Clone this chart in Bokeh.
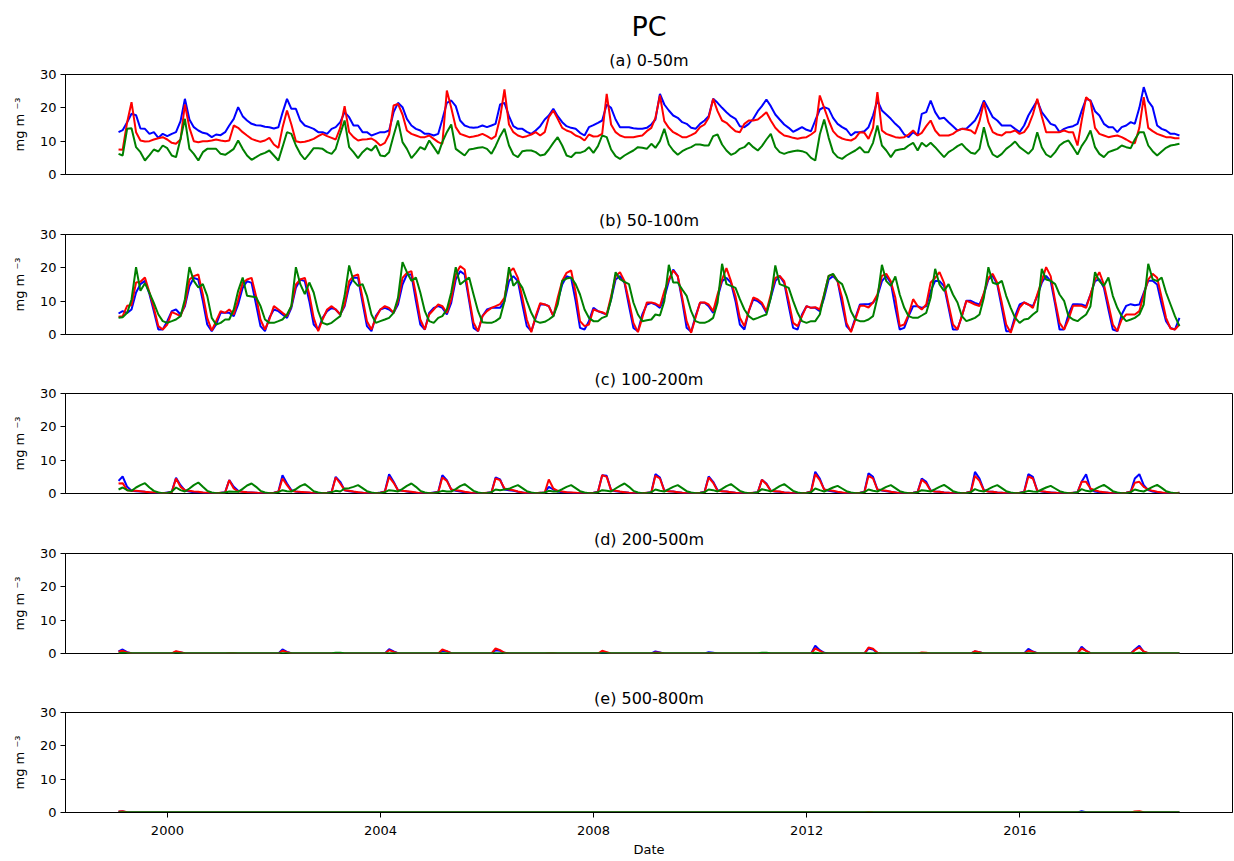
import pandas as pd
from bokeh.plotting import figure
from bokeh.layouts import column
from bokeh.models import Range1d, FixedTicker, DatetimeTickFormatter, Title, ColumnDataSource
from bokeh.embed import file_html
from bokeh.resources import INLINE

FONT = "DejaVu Sans"
YEARS = list(range(1999, 2019))
TICK_YEARS = [2000, 2004, 2008, 2012, 2016]
Y_TICKS = [0, 10, 20, 30]
SUPTITLE = "PC"
PANEL_TITLES = ["(a) 0-50m", "(b) 50-100m", "(c) 100-200m", "(d) 200-500m", "(e) 500-800m"]
Y_LABEL = "mg m \u207b\u00b3"
X_LABEL = "Date"
COLORS = ["blue", "red", "green"]

# ---------------- panel (a) 0-50m, one row per year (Jan..Dec) ----------------
A_BLUE = [
    [12.7, 13.3, 15.7, 18.2, 17.8, 13.8, 13.7, 12.2, 12.7, 11.0, 12.2, 11.5],
    [12.2, 12.7, 16.0, 22.7, 16.5, 14.2, 13.2, 12.5, 12.2, 11.2, 12.0, 11.8],
    [12.7, 14.7, 16.7, 20.2, 17.5, 16.2, 15.2, 14.8, 14.7, 14.3, 14.2, 13.8],
    [14.2, 18.5, 22.7, 19.7, 19.7, 16.2, 14.7, 14.2, 13.7, 12.7, 12.7, 12.2],
    [13.7, 14.2, 15.7, 18.7, 17.2, 14.7, 14.7, 12.7, 12.7, 11.7, 12.2, 12.7],
    [12.7, 13.2, 18.7, 21.5, 20.2, 16.7, 14.7, 13.7, 13.2, 12.2, 12.2, 11.7],
    [12.2, 16.5, 21.5, 22.2, 20.5, 16.2, 14.7, 14.2, 14.0, 14.2, 14.7, 14.2],
    [14.7, 15.2, 21.0, 21.5, 17.5, 14.5, 13.7, 13.7, 12.8, 12.2, 13.2, 14.5],
    [16.5, 17.7, 19.7, 17.5, 15.7, 14.5, 14.0, 13.7, 12.5, 11.7, 14.2, 14.8],
    [15.5, 16.2, 21.0, 20.0, 16.5, 14.2, 14.2, 14.2, 13.9, 13.7, 13.7, 14.0],
    [15.0, 16.5, 24.2, 21.0, 19.2, 17.7, 17.0, 15.7, 15.2, 14.0, 13.7, 15.2],
    [16.2, 17.5, 22.7, 21.5, 20.0, 18.7, 17.5, 16.7, 14.5, 14.2, 15.2, 16.7],
    [19.0, 20.5, 22.5, 20.5, 18.0, 16.5, 15.0, 14.0, 12.8, 13.5, 14.2, 13.4],
    [13.0, 16.2, 19.5, 20.2, 19.7, 17.0, 15.2, 14.2, 13.5, 11.7, 12.7, 12.7],
    [13.0, 14.2, 17.7, 22.2, 19.2, 18.0, 16.7, 15.2, 14.0, 12.0, 11.2, 12.7],
    [11.7, 18.2, 18.7, 22.2, 18.7, 16.7, 17.0, 15.7, 14.5, 13.2, 13.7, 13.7],
    [15.0, 16.2, 18.7, 22.2, 19.7, 17.2, 16.2, 14.7, 14.7, 14.7, 13.7, 12.7],
    [14.7, 17.7, 20.0, 22.2, 18.7, 17.0, 15.2, 14.7, 12.7, 13.7, 14.2, 14.5],
    [15.2, 19.0, 22.7, 22.2, 19.0, 17.7, 15.2, 14.2, 14.2, 12.7, 14.2, 14.7],
    [15.7, 15.2, 20.0, 26.2, 22.0, 20.2, 14.7, 13.7, 13.2, 12.2, 12.2, 11.7],
]
A_RED = [
    [7.5, 7.4, 15.7, 21.7, 12.7, 10.2, 9.9, 10.0, 10.5, 10.9, 11.2, 10.5],
    [9.5, 9.2, 10.5, 21.0, 14.0, 10.0, 9.7, 10.0, 10.0, 10.2, 10.5, 10.2],
    [10.0, 10.2, 14.7, 14.0, 12.7, 11.7, 10.7, 10.2, 9.8, 10.2, 11.0, 9.0],
    [8.0, 14.0, 19.2, 15.0, 10.0, 9.7, 9.8, 10.2, 10.7, 11.5, 12.2, 11.5],
    [11.0, 10.5, 14.0, 20.5, 12.7, 11.2, 10.2, 10.5, 10.6, 10.8, 10.0, 8.7],
    [9.5, 12.0, 20.7, 21.2, 18.0, 13.2, 12.2, 11.7, 11.2, 11.2, 11.7, 10.7],
    [9.7, 9.2, 25.2, 20.0, 14.2, 12.2, 11.7, 11.2, 11.4, 11.7, 12.2, 11.5],
    [10.7, 11.5, 17.0, 25.5, 15.0, 12.7, 11.7, 11.2, 11.5, 12.0, 12.7, 11.7],
    [12.7, 17.2, 19.2, 16.7, 14.0, 13.2, 12.7, 11.7, 11.2, 10.2, 12.0, 11.4],
    [11.5, 12.2, 24.2, 15.0, 12.7, 11.7, 11.2, 11.2, 11.2, 11.5, 11.7, 13.0],
    [14.0, 17.0, 23.7, 16.0, 14.0, 12.7, 12.0, 11.2, 11.2, 11.8, 12.5, 14.2],
    [15.0, 17.0, 22.7, 19.0, 16.2, 15.5, 14.2, 13.0, 12.7, 15.2, 16.2, 16.2],
    [16.5, 17.5, 18.7, 16.2, 14.0, 12.7, 11.7, 11.4, 11.0, 10.7, 11.0, 11.2],
    [12.0, 13.0, 23.7, 20.0, 16.2, 13.0, 11.5, 10.8, 10.4, 10.2, 10.9, 12.7],
    [12.5, 10.7, 14.0, 24.7, 13.2, 12.2, 11.7, 11.2, 11.0, 11.2, 12.0, 13.2],
    [11.7, 12.5, 14.5, 16.2, 13.2, 11.7, 11.7, 11.7, 12.2, 13.2, 13.7, 13.5],
    [13.2, 12.2, 16.0, 21.7, 15.7, 12.7, 12.0, 11.7, 12.7, 12.7, 13.2, 12.2],
    [12.7, 14.5, 18.0, 22.7, 17.5, 12.7, 12.7, 12.7, 12.7, 13.2, 12.7, 12.7],
    [8.7, 16.0, 23.2, 22.0, 14.0, 12.2, 11.7, 11.2, 11.5, 11.7, 11.2, 10.5],
    [9.7, 9.4, 14.0, 23.2, 14.0, 13.0, 12.2, 11.7, 11.2, 11.2, 10.9, 10.9],
]
A_GREEN = [
    [6.2, 5.7, 13.7, 13.9, 8.2, 6.7, 4.2, 5.8, 7.5, 6.9, 8.7, 7.9],
    [5.7, 5.2, 10.7, 16.7, 7.7, 6.2, 4.2, 6.7, 7.7, 7.7, 7.7, 6.2],
    [5.9, 6.7, 7.7, 10.2, 7.7, 5.7, 4.4, 5.2, 6.0, 6.5, 7.2, 5.7],
    [4.2, 8.2, 12.7, 12.2, 8.7, 6.2, 4.5, 6.2, 7.9, 7.9, 7.7, 6.7],
    [6.2, 7.7, 12.2, 16.2, 8.2, 6.7, 4.9, 6.7, 7.9, 7.2, 8.7, 5.7],
    [5.5, 6.7, 11.7, 16.2, 9.7, 7.7, 4.9, 6.5, 8.2, 7.5, 10.2, 8.2],
    [6.2, 9.7, 12.7, 15.0, 7.7, 6.7, 5.7, 7.5, 7.7, 8.0, 8.2, 7.7],
    [6.2, 8.5, 11.5, 13.7, 8.7, 6.0, 5.2, 7.0, 7.2, 7.2, 6.7, 5.7],
    [6.0, 7.5, 9.5, 11.2, 8.7, 5.7, 5.2, 6.5, 6.5, 7.0, 8.2, 6.5],
    [8.5, 11.7, 11.2, 7.5, 5.5, 4.7, 5.7, 6.5, 7.2, 8.2, 8.0, 7.7],
    [9.2, 8.0, 10.0, 13.7, 9.0, 7.2, 5.9, 7.0, 7.7, 8.2, 9.0, 9.0],
    [8.7, 8.7, 11.5, 12.0, 9.0, 7.2, 5.9, 6.5, 7.7, 8.2, 9.5, 8.2],
    [7.2, 8.5, 10.5, 12.2, 8.2, 6.7, 6.2, 6.7, 7.0, 7.2, 7.0, 6.5],
    [5.0, 4.2, 12.0, 16.5, 11.0, 6.7, 5.2, 4.7, 5.7, 6.5, 7.2, 8.2],
    [6.7, 6.7, 9.5, 14.7, 8.7, 7.2, 5.2, 7.2, 7.5, 7.7, 8.7, 9.5],
    [7.2, 9.5, 8.4, 9.5, 8.2, 6.7, 5.2, 6.7, 7.5, 8.5, 9.2, 7.7],
    [6.5, 6.2, 7.7, 14.2, 8.7, 6.0, 5.2, 6.2, 7.7, 8.7, 9.9, 8.2],
    [7.2, 6.2, 7.7, 12.7, 8.2, 6.0, 5.2, 6.7, 8.7, 9.7, 10.2, 8.2],
    [6.0, 8.5, 10.5, 13.2, 8.2, 6.2, 5.2, 6.7, 7.2, 7.7, 8.7, 8.2],
    [7.9, 10.5, 12.7, 12.7, 8.7, 7.0, 5.7, 6.9, 8.0, 8.7, 8.9, 9.2],
]

# ---------------- panel (b) 50-100m ----------------
B_BLUE = [
    [6.3, 7.0, 6.5, 7.5, 12.6, 15.1, 16.1, 12.1, 7.0, 1.5, 1.5, 4.0],
    [7.0, 7.5, 6.0, 8.5, 14.5, 17.0, 16.5, 10.0, 3.0, 1.0, 3.0, 6.5],
    [6.5, 6.5, 5.5, 9.0, 14.0, 16.0, 15.5, 9.0, 2.5, 1.0, 5.0, 7.5],
    [7.0, 6.0, 5.0, 8.0, 14.0, 16.5, 16.0, 10.0, 3.0, 1.5, 5.0, 7.0],
    [8.0, 7.5, 6.0, 8.5, 14.5, 17.0, 17.0, 9.5, 2.5, 1.0, 5.5, 7.5],
    [8.0, 7.5, 6.5, 9.0, 15.0, 18.0, 18.0, 10.0, 3.0, 1.5, 6.5, 8.0],
    [8.5, 8.0, 6.0, 9.5, 16.5, 19.0, 18.0, 10.0, 2.0, 1.0, 5.5, 7.5],
    [8.0, 8.0, 8.0, 10.0, 16.0, 17.5, 16.0, 9.0, 2.5, 1.0, 5.0, 9.0],
    [9.0, 8.5, 5.5, 10.0, 15.0, 17.5, 17.0, 10.0, 2.0, 1.5, 4.0, 8.0],
    [7.0, 6.5, 6.0, 10.5, 16.5, 17.5, 15.5, 8.5, 2.0, 1.0, 6.0, 9.0],
    [9.5, 9.0, 8.0, 11.0, 16.0, 19.5, 17.5, 10.0, 2.0, 0.8, 5.5, 9.5],
    [9.5, 8.5, 6.5, 11.0, 16.0, 17.0, 15.5, 10.0, 3.0, 1.5, 7.0, 10.5],
    [10.0, 9.0, 6.5, 11.0, 16.0, 17.5, 15.5, 8.5, 2.0, 1.5, 6.0, 8.5],
    [8.0, 8.0, 7.0, 11.0, 16.5, 17.5, 16.0, 9.0, 2.5, 1.0, 5.0, 9.0],
    [9.1, 9.1, 9.5, 11.5, 16.0, 17.6, 15.5, 8.0, 1.5, 2.0, 5.5, 8.5],
    [8.5, 8.0, 8.5, 13.0, 16.1, 16.0, 14.5, 8.0, 1.5, 1.5, 5.5, 10.1],
    [10.1, 9.5, 9.0, 12.0, 16.5, 17.6, 15.0, 8.0, 1.0, 1.0, 5.5, 9.0],
    [9.6, 9.0, 8.5, 11.5, 15.5, 17.6, 16.0, 9.0, 1.5, 1.5, 6.0, 9.1],
    [9.1, 9.0, 8.5, 12.0, 16.0, 16.6, 14.0, 7.5, 1.5, 1.0, 6.0, 8.6],
    [9.1, 8.8, 9.0, 12.5, 16.1, 16.1, 15.0, 9.0, 4.0, 2.0, 1.5, 5.0],
]
B_RED = [
    [5.3, 5.5, 8.6, 8.8, 15.6, 15.8, 17.1, 12.6, 8.0, 2.5, 1.5, 3.0],
    [6.7, 6.2, 5.5, 9.0, 16.5, 17.5, 18.0, 12.0, 5.0, 1.2, 4.0, 7.0],
    [6.5, 7.5, 6.0, 10.5, 15.5, 16.5, 17.0, 11.5, 4.5, 1.5, 4.5, 8.5],
    [7.5, 6.5, 5.5, 8.5, 15.0, 16.5, 17.0, 12.0, 5.0, 1.0, 4.5, 7.5],
    [8.5, 7.5, 6.0, 9.0, 16.0, 17.5, 18.0, 11.0, 4.0, 1.5, 5.0, 7.5],
    [8.5, 8.0, 6.5, 10.0, 17.0, 18.5, 19.0, 12.0, 4.5, 1.5, 6.0, 7.5],
    [9.0, 8.5, 6.5, 10.5, 18.0, 20.5, 19.5, 11.0, 3.5, 1.0, 5.5, 7.0],
    [8.0, 8.5, 9.1, 11.0, 18.7, 19.9, 17.0, 11.0, 4.5, 0.7, 5.5, 9.4],
    [9.0, 8.5, 5.5, 11.0, 16.1, 18.5, 19.2, 12.6, 4.0, 2.5, 3.0, 7.5],
    [7.0, 6.7, 6.0, 11.5, 17.5, 18.7, 16.0, 10.0, 3.5, 0.7, 5.0, 9.6],
    [9.6, 9.3, 8.5, 13.0, 16.5, 19.2, 17.5, 11.0, 4.0, 0.5, 5.0, 9.6],
    [9.6, 9.0, 7.0, 12.0, 16.5, 19.9, 16.0, 11.5, 5.0, 2.5, 7.0, 11.1],
    [10.5, 9.5, 7.0, 12.0, 17.0, 17.6, 16.0, 10.0, 3.5, 2.5, 5.5, 8.5],
    [8.0, 8.2, 7.5, 12.0, 17.6, 18.0, 16.0, 11.0, 3.5, 0.7, 4.5, 8.6],
    [8.6, 8.1, 9.6, 12.0, 17.6, 18.2, 16.0, 11.0, 2.5, 3.0, 6.0, 10.6],
    [8.5, 7.5, 9.0, 15.6, 17.0, 18.7, 15.5, 9.0, 3.0, 1.5, 5.5, 10.1],
    [9.6, 9.0, 8.5, 12.5, 17.0, 18.2, 15.5, 9.5, 3.0, 0.5, 4.5, 8.1],
    [9.6, 9.0, 8.0, 12.0, 16.1, 20.2, 17.5, 10.0, 3.5, 1.5, 4.5, 8.6],
    [8.6, 8.6, 8.0, 12.0, 16.5, 18.7, 15.0, 9.0, 3.0, 1.0, 4.5, 6.0],
    [6.0, 6.0, 7.0, 12.0, 16.5, 18.2, 17.0, 11.0, 5.0, 1.8, 1.5, 3.0],
]
B_GREEN = [
    [5.0, 5.2, 6.5, 10.5, 20.2, 13.1, 15.4, 12.5, 9.5, 6.0, 4.0, 3.5],
    [4.0, 4.5, 5.5, 10.6, 20.2, 16.1, 14.1, 15.1, 11.6, 5.0, 3.0, 3.5],
    [4.5, 4.5, 7.5, 13.1, 17.1, 11.6, 11.4, 11.2, 8.6, 4.5, 3.5, 3.5],
    [4.0, 4.5, 6.0, 8.6, 20.2, 15.1, 12.1, 15.6, 12.6, 7.0, 3.5, 3.0],
    [3.5, 4.5, 5.5, 11.6, 20.7, 16.1, 14.6, 15.1, 11.6, 6.0, 3.5, 4.0],
    [4.5, 5.0, 6.5, 11.0, 21.7, 18.7, 16.1, 17.1, 12.6, 7.0, 4.0, 3.5],
    [5.0, 5.5, 7.5, 12.6, 20.2, 15.0, 16.1, 17.1, 12.0, 7.0, 3.7, 3.5],
    [3.5, 4.0, 5.0, 10.0, 20.2, 14.6, 16.1, 14.0, 10.1, 6.5, 4.0, 3.5],
    [3.8, 4.5, 5.5, 9.0, 16.1, 16.8, 17.1, 15.1, 12.0, 7.5, 5.0, 4.0],
    [4.0, 5.0, 5.5, 10.5, 18.7, 16.6, 15.8, 15.1, 9.6, 6.0, 4.0, 4.3],
    [4.5, 6.0, 5.7, 10.0, 20.9, 15.6, 15.6, 13.5, 11.6, 7.0, 4.0, 3.5],
    [3.5, 4.0, 5.0, 9.5, 21.2, 15.1, 14.6, 14.0, 10.6, 7.5, 5.5, 4.5],
    [5.0, 5.5, 6.0, 11.0, 20.7, 15.1, 14.6, 14.0, 10.1, 6.5, 4.0, 3.5],
    [4.0, 4.0, 6.0, 12.0, 17.6, 18.2, 16.1, 15.1, 11.6, 7.0, 4.5, 4.0],
    [4.0, 4.5, 5.5, 11.0, 20.9, 16.0, 14.6, 17.4, 12.0, 8.0, 5.5, 5.0],
    [5.0, 5.7, 6.5, 11.0, 19.7, 15.0, 13.1, 15.1, 12.0, 9.6, 5.5, 4.0],
    [4.5, 5.0, 6.0, 11.0, 20.2, 15.5, 15.1, 16.1, 11.6, 8.0, 5.0, 3.5],
    [4.5, 4.7, 6.0, 7.0, 19.7, 16.5, 16.1, 15.1, 12.0, 10.1, 5.5, 4.5],
    [4.0, 5.0, 6.0, 8.5, 18.7, 16.0, 14.6, 17.1, 11.6, 8.0, 5.5, 4.0],
    [4.5, 5.0, 6.0, 9.0, 21.2, 16.6, 16.0, 17.1, 12.6, 9.0, 5.5, 2.5],
]

# ---------------- panel (c) 100-200m ----------------
C_BLUE = [
    [3.8, 5.1, 2.0, 0.8, 0.7, 0.6, 0.5, 0.3, 0.2, 0.1, 0.1, 0.3],
    [0.5, 4.7, 2.5, 0.9, 0.6, 0.4, 0.3, 0.2, 0.1, 0.1, 0.1, 0.2],
    [0.4, 4.0, 2.0, 0.8, 0.5, 0.4, 0.3, 0.2, 0.1, 0.1, 0.1, 0.2],
    [0.6, 5.5, 3.0, 1.0, 0.6, 0.4, 0.3, 0.2, 0.1, 0.1, 0.1, 0.2],
    [0.5, 5.0, 3.5, 1.0, 0.7, 0.5, 0.3, 0.2, 0.1, 0.1, 0.1, 0.3],
    [0.6, 5.8, 3.5, 1.0, 0.8, 0.6, 0.4, 0.2, 0.1, 0.1, 0.1, 0.3],
    [0.5, 5.5, 4.0, 1.2, 0.8, 0.6, 0.4, 0.2, 0.1, 0.1, 0.1, 0.2],
    [0.4, 4.8, 4.2, 1.2, 1.0, 0.8, 0.5, 0.3, 0.1, 0.1, 0.1, 0.2],
    [0.3, 2.0, 1.2, 0.6, 0.4, 0.3, 0.2, 0.1, 0.1, 0.1, 0.1, 0.2],
    [0.5, 5.5, 5.3, 1.0, 0.7, 0.5, 0.4, 0.2, 0.1, 0.1, 0.1, 0.2],
    [0.4, 5.8, 4.8, 0.9, 0.7, 0.6, 0.4, 0.2, 0.1, 0.1, 0.1, 0.2],
    [0.5, 5.1, 3.5, 1.0, 0.7, 0.6, 0.4, 0.2, 0.1, 0.1, 0.1, 0.2],
    [0.4, 4.1, 3.0, 0.8, 0.6, 0.5, 0.3, 0.2, 0.1, 0.1, 0.1, 0.2],
    [0.6, 6.5, 4.5, 1.2, 0.8, 0.6, 0.4, 0.2, 0.1, 0.1, 0.1, 0.2],
    [0.5, 6.1, 5.0, 1.2, 0.9, 0.7, 0.5, 0.3, 0.1, 0.1, 0.1, 0.2],
    [0.5, 4.5, 3.5, 0.9, 0.6, 0.5, 0.3, 0.2, 0.1, 0.1, 0.1, 0.2],
    [0.6, 6.5, 4.5, 1.0, 0.6, 0.5, 0.3, 0.2, 0.1, 0.1, 0.1, 0.2],
    [0.5, 5.8, 5.0, 0.8, 0.6, 0.4, 0.3, 0.2, 0.1, 0.1, 0.1, 0.2],
    [0.4, 3.5, 5.8, 1.2, 0.6, 0.4, 0.3, 0.2, 0.1, 0.1, 0.1, 0.2],
    [0.6, 4.5, 5.8, 2.5, 1.0, 0.6, 0.4, 0.2, 0.1, 0.1, 0.1, 0.2],
]
C_RED = [
    [3.0, 3.1, 1.0, 0.8, 0.8, 0.7, 0.5, 0.4, 0.3, 0.2, 0.1, 0.2],
    [0.4, 4.5, 2.0, 1.0, 0.8, 0.6, 0.5, 0.3, 0.2, 0.1, 0.1, 0.2],
    [0.3, 4.0, 1.5, 0.6, 0.5, 0.4, 0.3, 0.2, 0.1, 0.1, 0.1, 0.2],
    [0.5, 4.5, 2.5, 0.8, 0.6, 0.5, 0.4, 0.3, 0.1, 0.1, 0.1, 0.2],
    [0.4, 4.8, 3.0, 1.0, 0.8, 0.6, 0.4, 0.2, 0.1, 0.1, 0.1, 0.2],
    [0.5, 5.0, 3.2, 1.0, 0.8, 0.7, 0.5, 0.3, 0.1, 0.1, 0.1, 0.2],
    [0.4, 4.8, 3.8, 1.2, 1.0, 0.8, 0.5, 0.3, 0.1, 0.1, 0.1, 0.2],
    [0.3, 4.5, 4.0, 1.5, 1.2, 1.0, 0.6, 0.3, 0.1, 0.1, 0.1, 0.2],
    [0.3, 4.2, 1.5, 0.8, 0.6, 0.4, 0.3, 0.2, 0.1, 0.1, 0.1, 0.2],
    [0.4, 5.5, 5.0, 1.0, 0.8, 0.6, 0.4, 0.2, 0.1, 0.1, 0.1, 0.2],
    [0.3, 5.3, 4.5, 0.8, 0.7, 0.6, 0.4, 0.2, 0.1, 0.1, 0.1, 0.2],
    [0.4, 4.8, 3.2, 0.8, 0.7, 0.6, 0.4, 0.2, 0.1, 0.1, 0.1, 0.2],
    [0.3, 4.1, 2.8, 0.8, 0.7, 0.6, 0.3, 0.2, 0.1, 0.1, 0.1, 0.2],
    [0.5, 5.8, 4.0, 1.2, 1.0, 0.8, 0.5, 0.3, 0.1, 0.1, 0.1, 0.2],
    [0.4, 5.3, 4.5, 1.2, 1.0, 0.8, 0.5, 0.3, 0.1, 0.1, 0.1, 0.2],
    [0.4, 4.1, 3.0, 0.8, 0.6, 0.5, 0.3, 0.2, 0.1, 0.1, 0.1, 0.2],
    [0.5, 5.3, 3.8, 0.9, 0.6, 0.5, 0.3, 0.2, 0.1, 0.1, 0.1, 0.2],
    [0.4, 5.1, 4.5, 0.9, 0.7, 0.5, 0.3, 0.2, 0.1, 0.1, 0.1, 0.2],
    [0.3, 3.5, 3.5, 1.5, 0.9, 0.6, 0.4, 0.2, 0.1, 0.1, 0.1, 0.2],
    [0.5, 3.2, 3.5, 2.0, 1.2, 0.8, 0.5, 0.3, 0.1, 0.1, 0.1, 0.2],
]
C_GREEN = [
    [1.2, 1.8, 1.0, 0.8, 1.8, 2.5, 3.1, 1.8, 0.8, 0.3, 0.1, 0.1],
    [0.6, 1.8, 1.0, 0.6, 1.5, 2.5, 3.3, 2.0, 0.8, 0.3, 0.1, 0.1],
    [0.3, 0.6, 0.5, 0.5, 1.4, 2.4, 3.0, 2.0, 0.8, 0.3, 0.1, 0.1],
    [0.4, 1.0, 0.7, 0.6, 1.3, 2.2, 2.8, 1.8, 0.7, 0.3, 0.1, 0.1],
    [0.4, 0.8, 0.6, 1.5, 1.6, 2.0, 2.5, 1.6, 0.7, 0.3, 0.1, 0.1],
    [0.4, 1.0, 0.8, 0.6, 1.4, 2.3, 3.0, 2.0, 0.8, 0.3, 0.1, 0.1],
    [0.4, 0.8, 0.6, 0.6, 1.3, 2.2, 2.8, 1.8, 0.8, 0.3, 0.1, 0.1],
    [0.4, 1.2, 1.0, 1.2, 1.4, 2.0, 2.5, 1.6, 0.7, 0.3, 0.1, 0.1],
    [0.3, 0.8, 0.6, 0.6, 1.3, 2.0, 2.5, 1.6, 0.7, 0.3, 0.1, 0.1],
    [0.4, 1.0, 0.8, 0.6, 1.5, 2.3, 3.0, 2.0, 0.8, 0.3, 0.1, 0.1],
    [0.4, 1.2, 0.8, 0.6, 1.3, 2.0, 2.5, 1.6, 0.7, 0.3, 0.1, 0.1],
    [0.4, 1.2, 1.0, 0.6, 1.4, 2.2, 2.8, 1.8, 0.8, 0.3, 0.1, 0.1],
    [0.4, 1.3, 1.0, 0.6, 1.4, 2.2, 2.8, 1.8, 0.8, 0.3, 0.1, 0.1],
    [0.4, 1.5, 1.0, 0.6, 1.2, 1.8, 2.3, 1.5, 0.7, 0.3, 0.1, 0.1],
    [0.4, 1.2, 0.8, 0.6, 1.3, 2.0, 2.5, 1.6, 0.7, 0.3, 0.1, 0.1],
    [0.4, 1.0, 0.8, 0.6, 1.3, 2.0, 2.6, 1.7, 0.7, 0.3, 0.1, 0.1],
    [0.4, 1.3, 0.8, 0.6, 1.3, 2.0, 2.5, 1.6, 0.7, 0.3, 0.1, 0.1],
    [0.4, 0.8, 0.6, 0.5, 1.2, 1.8, 2.3, 1.5, 0.7, 0.3, 0.1, 0.1],
    [0.4, 1.3, 0.8, 0.6, 1.3, 2.0, 2.6, 1.7, 0.7, 0.3, 0.1, 0.1],
    [0.4, 1.2, 0.8, 0.6, 1.3, 2.0, 2.6, 1.7, 0.7, 0.3, 0.1, 0.1],
]

# ---------------- panel (d) 200-500m ----------------
D_BLUE = [
    [0.6, 1.2, 0.4, 0.1, 0.0, 0.0, 0.0, 0.0, 0.0, 0.0, 0.0, 0.0],
    [0.0, 0.5, 0.3, 0.1, 0.0, 0.0, 0.0, 0.0, 0.0, 0.0, 0.0, 0.0],
    [0.0, 0.1, 0.1, 0.0, 0.0, 0.0, 0.0, 0.0, 0.0, 0.0, 0.0, 0.0],
    [0.0, 1.2, 0.5, 0.1, 0.0, 0.0, 0.0, 0.0, 0.0, 0.0, 0.0, 0.0],
    [0.0, 0.1, 0.1, 0.0, 0.0, 0.0, 0.0, 0.0, 0.0, 0.0, 0.0, 0.0],
    [0.0, 1.3, 0.6, 0.1, 0.0, 0.0, 0.0, 0.0, 0.0, 0.0, 0.0, 0.0],
    [0.0, 0.8, 0.6, 0.1, 0.0, 0.0, 0.0, 0.0, 0.0, 0.0, 0.0, 0.0],
    [0.0, 1.0, 0.8, 0.2, 0.0, 0.0, 0.0, 0.0, 0.0, 0.0, 0.0, 0.0],
    [0.0, 0.1, 0.1, 0.0, 0.0, 0.0, 0.0, 0.0, 0.0, 0.0, 0.0, 0.0],
    [0.0, 0.3, 0.2, 0.0, 0.0, 0.0, 0.0, 0.0, 0.0, 0.0, 0.0, 0.0],
    [0.0, 0.6, 0.3, 0.0, 0.0, 0.0, 0.0, 0.0, 0.0, 0.0, 0.0, 0.0],
    [0.0, 0.4, 0.2, 0.0, 0.0, 0.0, 0.0, 0.0, 0.0, 0.0, 0.0, 0.0],
    [0.0, 0.1, 0.1, 0.0, 0.0, 0.0, 0.0, 0.0, 0.0, 0.0, 0.0, 0.0],
    [0.0, 2.3, 1.0, 0.2, 0.0, 0.0, 0.0, 0.0, 0.0, 0.0, 0.0, 0.0],
    [0.0, 1.5, 1.2, 0.2, 0.0, 0.0, 0.0, 0.0, 0.0, 0.0, 0.0, 0.0],
    [0.0, 0.1, 0.1, 0.0, 0.0, 0.0, 0.0, 0.0, 0.0, 0.0, 0.0, 0.0],
    [0.0, 0.6, 0.4, 0.0, 0.0, 0.0, 0.0, 0.0, 0.0, 0.0, 0.0, 0.0],
    [0.0, 1.4, 0.6, 0.1, 0.0, 0.0, 0.0, 0.0, 0.0, 0.0, 0.0, 0.0],
    [0.0, 2.0, 0.8, 0.1, 0.0, 0.0, 0.0, 0.0, 0.0, 0.0, 0.0, 0.0],
    [0.0, 1.2, 2.3, 0.5, 0.1, 0.0, 0.0, 0.0, 0.0, 0.0, 0.0, 0.0],
]
D_RED = [
    [0.5, 0.8, 0.3, 0.1, 0.0, 0.0, 0.0, 0.0, 0.0, 0.0, 0.0, 0.0],
    [0.0, 0.7, 0.4, 0.1, 0.0, 0.0, 0.0, 0.0, 0.0, 0.0, 0.0, 0.0],
    [0.0, 0.1, 0.1, 0.0, 0.0, 0.0, 0.0, 0.0, 0.0, 0.0, 0.0, 0.0],
    [0.0, 0.8, 0.4, 0.1, 0.0, 0.0, 0.0, 0.0, 0.0, 0.0, 0.0, 0.0],
    [0.0, 0.1, 0.1, 0.0, 0.0, 0.0, 0.0, 0.0, 0.0, 0.0, 0.0, 0.0],
    [0.0, 1.0, 0.5, 0.1, 0.0, 0.0, 0.0, 0.0, 0.0, 0.0, 0.0, 0.0],
    [0.0, 1.2, 0.7, 0.1, 0.0, 0.0, 0.0, 0.0, 0.0, 0.0, 0.0, 0.0],
    [0.0, 1.5, 1.0, 0.2, 0.0, 0.0, 0.0, 0.0, 0.0, 0.0, 0.0, 0.0],
    [0.0, 0.1, 0.1, 0.0, 0.0, 0.0, 0.0, 0.0, 0.0, 0.0, 0.0, 0.0],
    [0.0, 0.8, 0.4, 0.0, 0.0, 0.0, 0.0, 0.0, 0.0, 0.0, 0.0, 0.0],
    [0.0, 0.3, 0.2, 0.0, 0.0, 0.0, 0.0, 0.0, 0.0, 0.0, 0.0, 0.0],
    [0.0, 0.1, 0.1, 0.0, 0.0, 0.0, 0.0, 0.0, 0.0, 0.0, 0.0, 0.0],
    [0.0, 0.1, 0.1, 0.0, 0.0, 0.0, 0.0, 0.0, 0.0, 0.0, 0.0, 0.0],
    [0.0, 1.5, 0.8, 0.1, 0.0, 0.0, 0.0, 0.0, 0.0, 0.0, 0.0, 0.0],
    [0.0, 1.8, 1.4, 0.2, 0.0, 0.0, 0.0, 0.0, 0.0, 0.0, 0.0, 0.0],
    [0.0, 0.3, 0.2, 0.0, 0.0, 0.0, 0.0, 0.0, 0.0, 0.0, 0.0, 0.0],
    [0.0, 0.7, 0.4, 0.0, 0.0, 0.0, 0.0, 0.0, 0.0, 0.0, 0.0, 0.0],
    [0.0, 0.8, 0.5, 0.1, 0.0, 0.0, 0.0, 0.0, 0.0, 0.0, 0.0, 0.0],
    [0.0, 1.5, 0.8, 0.1, 0.0, 0.0, 0.0, 0.0, 0.0, 0.0, 0.0, 0.0],
    [0.0, 1.0, 1.8, 0.6, 0.1, 0.0, 0.0, 0.0, 0.0, 0.0, 0.0, 0.0],
]
D_GREEN = [
    [0.1, 0.2, 0.1, 0.1, 0.1, 0.1, 0.1, 0.1, 0.1, 0.1, 0.1, 0.1],
    [0.1, 0.1, 0.1, 0.1, 0.1, 0.1, 0.1, 0.1, 0.1, 0.1, 0.1, 0.1],
    [0.1, 0.1, 0.1, 0.1, 0.1, 0.1, 0.1, 0.1, 0.1, 0.1, 0.1, 0.1],
    [0.1, 0.1, 0.1, 0.1, 0.1, 0.1, 0.1, 0.1, 0.1, 0.1, 0.1, 0.1],
    [0.1, 0.2, 0.2, 0.1, 0.1, 0.1, 0.1, 0.1, 0.1, 0.1, 0.1, 0.1],
    [0.1, 0.1, 0.1, 0.1, 0.1, 0.1, 0.1, 0.1, 0.1, 0.1, 0.1, 0.1],
    [0.1, 0.1, 0.1, 0.1, 0.1, 0.1, 0.1, 0.1, 0.1, 0.1, 0.1, 0.1],
    [0.1, 0.1, 0.1, 0.1, 0.1, 0.1, 0.1, 0.1, 0.1, 0.1, 0.1, 0.1],
    [0.1, 0.1, 0.1, 0.1, 0.1, 0.1, 0.1, 0.1, 0.1, 0.1, 0.1, 0.1],
    [0.1, 0.1, 0.1, 0.1, 0.1, 0.1, 0.1, 0.1, 0.1, 0.1, 0.1, 0.1],
    [0.1, 0.1, 0.1, 0.1, 0.1, 0.1, 0.1, 0.1, 0.1, 0.1, 0.1, 0.1],
    [0.1, 0.1, 0.1, 0.1, 0.1, 0.1, 0.1, 0.1, 0.1, 0.1, 0.1, 0.1],
    [0.1, 0.2, 0.2, 0.1, 0.1, 0.1, 0.1, 0.1, 0.1, 0.1, 0.1, 0.1],
    [0.1, 0.2, 0.1, 0.1, 0.1, 0.1, 0.1, 0.1, 0.1, 0.1, 0.1, 0.1],
    [0.1, 0.1, 0.1, 0.1, 0.1, 0.1, 0.1, 0.1, 0.1, 0.1, 0.1, 0.1],
    [0.1, 0.1, 0.1, 0.1, 0.1, 0.1, 0.1, 0.1, 0.1, 0.1, 0.1, 0.1],
    [0.1, 0.1, 0.1, 0.1, 0.1, 0.1, 0.1, 0.1, 0.1, 0.1, 0.1, 0.1],
    [0.1, 0.1, 0.1, 0.1, 0.1, 0.1, 0.1, 0.1, 0.1, 0.1, 0.1, 0.1],
    [0.1, 0.2, 0.1, 0.1, 0.1, 0.1, 0.1, 0.1, 0.1, 0.1, 0.1, 0.1],
    [0.1, 0.1, 0.2, 0.1, 0.1, 0.1, 0.1, 0.1, 0.1, 0.1, 0.1, 0.1],
]

# ---------------- panel (e) 500-800m ----------------
E_BLUE = [
    [0.2, 0.3, 0.1, 0.0, 0.0, 0.0, 0.0, 0.0, 0.0, 0.0, 0.0, 0.0],
    [0.0, 0.0, 0.0, 0.0, 0.0, 0.0, 0.0, 0.0, 0.0, 0.0, 0.0, 0.0],
    [0.0, 0.0, 0.0, 0.0, 0.0, 0.0, 0.0, 0.0, 0.0, 0.0, 0.0, 0.0],
    [0.0, 0.0, 0.0, 0.0, 0.0, 0.0, 0.0, 0.0, 0.0, 0.0, 0.0, 0.0],
    [0.0, 0.0, 0.0, 0.0, 0.0, 0.0, 0.0, 0.0, 0.0, 0.0, 0.0, 0.0],
    [0.0, 0.0, 0.0, 0.0, 0.0, 0.0, 0.0, 0.0, 0.0, 0.0, 0.0, 0.0],
    [0.0, 0.0, 0.0, 0.0, 0.0, 0.0, 0.0, 0.0, 0.0, 0.0, 0.0, 0.0],
    [0.0, 0.0, 0.0, 0.0, 0.0, 0.0, 0.0, 0.0, 0.0, 0.0, 0.0, 0.0],
    [0.0, 0.0, 0.0, 0.0, 0.0, 0.0, 0.0, 0.0, 0.0, 0.0, 0.0, 0.0],
    [0.0, 0.0, 0.0, 0.0, 0.0, 0.0, 0.0, 0.0, 0.0, 0.0, 0.0, 0.0],
    [0.0, 0.0, 0.0, 0.0, 0.0, 0.0, 0.0, 0.0, 0.0, 0.0, 0.0, 0.0],
    [0.0, 0.0, 0.0, 0.0, 0.0, 0.0, 0.0, 0.0, 0.0, 0.0, 0.0, 0.0],
    [0.0, 0.0, 0.0, 0.0, 0.0, 0.0, 0.0, 0.0, 0.0, 0.0, 0.0, 0.0],
    [0.0, 0.0, 0.0, 0.0, 0.0, 0.0, 0.0, 0.0, 0.0, 0.0, 0.0, 0.0],
    [0.0, 0.0, 0.0, 0.0, 0.0, 0.0, 0.0, 0.0, 0.0, 0.0, 0.0, 0.0],
    [0.0, 0.0, 0.0, 0.0, 0.0, 0.0, 0.0, 0.0, 0.0, 0.0, 0.0, 0.0],
    [0.0, 0.0, 0.0, 0.0, 0.0, 0.0, 0.0, 0.0, 0.0, 0.0, 0.0, 0.0],
    [0.0, 0.0, 0.0, 0.0, 0.0, 0.0, 0.0, 0.0, 0.0, 0.0, 0.0, 0.0],
    [0.0, 0.35, 0.1, 0.0, 0.0, 0.0, 0.0, 0.0, 0.0, 0.0, 0.0, 0.0],
    [0.0, 0.0, 0.1, 0.0, 0.0, 0.0, 0.0, 0.0, 0.0, 0.0, 0.0, 0.0],
]
E_RED = [
    [0.3, 0.4, 0.1, 0.0, 0.0, 0.0, 0.0, 0.0, 0.0, 0.0, 0.0, 0.0],
    [0.0, 0.0, 0.0, 0.0, 0.0, 0.0, 0.0, 0.0, 0.0, 0.0, 0.0, 0.0],
    [0.0, 0.0, 0.0, 0.0, 0.0, 0.0, 0.0, 0.0, 0.0, 0.0, 0.0, 0.0],
    [0.0, 0.0, 0.0, 0.0, 0.0, 0.0, 0.0, 0.0, 0.0, 0.0, 0.0, 0.0],
    [0.0, 0.0, 0.0, 0.0, 0.0, 0.0, 0.0, 0.0, 0.0, 0.0, 0.0, 0.0],
    [0.0, 0.0, 0.0, 0.0, 0.0, 0.0, 0.0, 0.0, 0.0, 0.0, 0.0, 0.0],
    [0.0, 0.0, 0.0, 0.0, 0.0, 0.0, 0.0, 0.0, 0.0, 0.0, 0.0, 0.0],
    [0.0, 0.0, 0.0, 0.0, 0.0, 0.0, 0.0, 0.0, 0.0, 0.0, 0.0, 0.0],
    [0.0, 0.0, 0.0, 0.0, 0.0, 0.0, 0.0, 0.0, 0.0, 0.0, 0.0, 0.0],
    [0.0, 0.0, 0.0, 0.0, 0.0, 0.0, 0.0, 0.0, 0.0, 0.0, 0.0, 0.0],
    [0.0, 0.0, 0.0, 0.0, 0.0, 0.0, 0.0, 0.0, 0.0, 0.0, 0.0, 0.0],
    [0.0, 0.0, 0.0, 0.0, 0.0, 0.0, 0.0, 0.0, 0.0, 0.0, 0.0, 0.0],
    [0.0, 0.0, 0.0, 0.0, 0.0, 0.0, 0.0, 0.0, 0.0, 0.0, 0.0, 0.0],
    [0.0, 0.0, 0.0, 0.0, 0.0, 0.0, 0.0, 0.0, 0.0, 0.0, 0.0, 0.0],
    [0.0, 0.15, 0.05, 0.0, 0.0, 0.0, 0.0, 0.0, 0.0, 0.0, 0.0, 0.0],
    [0.0, 0.0, 0.0, 0.0, 0.0, 0.0, 0.0, 0.0, 0.0, 0.0, 0.0, 0.0],
    [0.0, 0.0, 0.0, 0.0, 0.0, 0.0, 0.0, 0.0, 0.0, 0.0, 0.0, 0.0],
    [0.0, 0.0, 0.0, 0.0, 0.0, 0.0, 0.0, 0.0, 0.0, 0.0, 0.0, 0.0],
    [0.0, 0.0, 0.0, 0.0, 0.0, 0.0, 0.0, 0.0, 0.0, 0.0, 0.0, 0.0],
    [0.0, 0.3, 0.4, 0.1, 0.0, 0.0, 0.0, 0.0, 0.0, 0.0, 0.0, 0.0],
]
E_GREEN = [
    [0.05, 0.05, 0.05, 0.05, 0.05, 0.05, 0.05, 0.05, 0.05, 0.05, 0.05, 0.05],
    [0.05, 0.05, 0.05, 0.05, 0.05, 0.05, 0.05, 0.05, 0.05, 0.05, 0.05, 0.05],
    [0.05, 0.05, 0.05, 0.05, 0.05, 0.05, 0.05, 0.05, 0.05, 0.05, 0.05, 0.05],
    [0.05, 0.05, 0.05, 0.05, 0.05, 0.05, 0.05, 0.05, 0.05, 0.05, 0.05, 0.05],
    [0.05, 0.05, 0.05, 0.05, 0.05, 0.05, 0.05, 0.05, 0.05, 0.05, 0.05, 0.05],
    [0.05, 0.05, 0.05, 0.05, 0.05, 0.05, 0.05, 0.05, 0.05, 0.05, 0.05, 0.05],
    [0.05, 0.05, 0.05, 0.05, 0.05, 0.05, 0.05, 0.05, 0.05, 0.05, 0.05, 0.05],
    [0.05, 0.05, 0.05, 0.05, 0.05, 0.05, 0.05, 0.05, 0.05, 0.05, 0.05, 0.05],
    [0.05, 0.05, 0.05, 0.05, 0.05, 0.05, 0.05, 0.05, 0.05, 0.05, 0.05, 0.05],
    [0.05, 0.05, 0.05, 0.05, 0.05, 0.05, 0.05, 0.05, 0.05, 0.05, 0.05, 0.05],
    [0.05, 0.05, 0.05, 0.05, 0.05, 0.05, 0.05, 0.05, 0.05, 0.05, 0.05, 0.05],
    [0.05, 0.05, 0.05, 0.05, 0.05, 0.05, 0.05, 0.05, 0.05, 0.05, 0.05, 0.05],
    [0.05, 0.05, 0.05, 0.05, 0.05, 0.05, 0.05, 0.05, 0.05, 0.05, 0.05, 0.05],
    [0.05, 0.05, 0.05, 0.05, 0.05, 0.05, 0.05, 0.05, 0.05, 0.05, 0.05, 0.05],
    [0.05, 0.05, 0.05, 0.05, 0.05, 0.05, 0.05, 0.05, 0.05, 0.05, 0.05, 0.05],
    [0.05, 0.05, 0.05, 0.05, 0.05, 0.05, 0.05, 0.05, 0.05, 0.05, 0.05, 0.05],
    [0.05, 0.05, 0.05, 0.05, 0.05, 0.05, 0.05, 0.05, 0.05, 0.05, 0.05, 0.05],
    [0.05, 0.05, 0.05, 0.05, 0.05, 0.05, 0.05, 0.05, 0.05, 0.05, 0.05, 0.05],
    [0.05, 0.05, 0.05, 0.05, 0.05, 0.05, 0.05, 0.05, 0.05, 0.05, 0.05, 0.05],
    [0.05, 0.05, 0.05, 0.05, 0.05, 0.05, 0.05, 0.05, 0.05, 0.05, 0.05, 0.05],
]

PANELS = [
    (A_BLUE, A_RED, A_GREEN),
    (B_BLUE, B_RED, B_GREEN),
    (C_BLUE, C_RED, C_GREEN),
    (D_BLUE, D_RED, D_GREEN),
    (E_BLUE, E_RED, E_GREEN),
]


def flat(rows):
    return [v for r in rows for v in r]


# month-end dates, Jan 1999 .. Dec 2018
DATES = pd.date_range(f"{YEARS[0]}-01-01", periods=12 * len(YEARS), freq="MS") + pd.offsets.MonthEnd(0)
span = DATES[-1] - DATES[0]
x_range = Range1d(start=DATES[0] - span * 0.05, end=DATES[-1] + span * 0.05)
x_ticks = [pd.Timestamp(f"{y}-01-01").value / 1e6 for y in TICK_YEARS]

W = 1233
FRAME_H = 100
TOPS = [74, 40, 40, 40, 40]
BOTTOMS = [20, 19, 20, 19, 48]


def style_title(t, size, standoff):
    t.text_font = FONT
    t.text_font_size = size
    t.text_font_style = "normal"
    t.text_color = "black"
    t.align = "center"
    t.standoff = standoff


figs = []
for i, (series, ptitle) in enumerate(zip(PANELS, PANEL_TITLES)):
    last = i == len(PANELS) - 1
    p = figure(
        width=W, height=TOPS[i] + FRAME_H + BOTTOMS[i],
        x_axis_type="datetime", x_range=x_range, y_range=Range1d(0, 30),
        output_backend="svg", toolbar_location=None,
        x_axis_location="below" if last else None,
        min_border_left=65, min_border_right=1,
        min_border_top=TOPS[i], min_border_bottom=BOTTOMS[i],
        title=SUPTITLE if i == 0 else ptitle,
    )
    if i == 0:
        # figure title (outermost) is the suptitle, panel title sits next to the frame
        style_title(p.title, "27px", 6)
        sub = Title(text=ptitle)
        style_title(sub, "16px", 9)
        p.add_layout(sub, "above")
    else:
        style_title(p.title, "16px", 9)

    p.xgrid.grid_line_color = None
    p.ygrid.grid_line_color = None
    p.outline_line_color = "black"
    p.outline_line_width = 1
    p.outline_line_alpha = 1
    p.background_fill_color = "white"
    p.border_fill_color = "white"

    for ax in p.yaxis:
        ax.ticker = FixedTicker(ticks=Y_TICKS)
        ax.axis_label = Y_LABEL
        ax.axis_label_text_font = FONT
        ax.axis_label_text_font_size = "13px"
        ax.axis_label_text_font_style = "normal"
        ax.axis_label_text_color = "black"
        ax.axis_label_standoff = 10
        ax.major_label_text_font = FONT
        ax.major_label_text_font_size = "13px"
        ax.major_label_text_color = "black"
        ax.major_tick_out = 5
        ax.major_tick_in = 0
        ax.minor_tick_line_color = None
        ax.axis_line_color = "black"
        ax.major_tick_line_color = "black"
        ax.major_label_standoff = 4

    if last:
        for ax in p.xaxis:
            ax.ticker = FixedTicker(ticks=x_ticks)
            ax.formatter = DatetimeTickFormatter(years="%Y", months="%Y", days="%Y",
                                                 hours="%Y", minutes="%Y")
            ax.axis_label = X_LABEL
            ax.axis_label_text_font = FONT
            ax.axis_label_text_font_size = "13px"
            ax.axis_label_text_font_style = "normal"
            ax.axis_label_text_color = "black"
            ax.axis_label_standoff = 4
            ax.major_label_text_font = FONT
            ax.major_label_text_font_size = "13px"
            ax.major_label_text_color = "black"
            ax.major_tick_out = 5
            ax.major_tick_in = 0
            ax.minor_tick_line_color = None
            ax.axis_line_color = "black"
            ax.major_tick_line_color = "black"
            ax.major_label_standoff = 8

    for rows, color in zip(series, COLORS):
        src = ColumnDataSource(dict(x=DATES, y=flat(rows)))
        p.line("x", "y", source=src, line_color=color, line_width=2)
    figs.append(p)

layout = column(*figs, spacing=0)
open("out.html", "w").write(file_html(layout, INLINE))
